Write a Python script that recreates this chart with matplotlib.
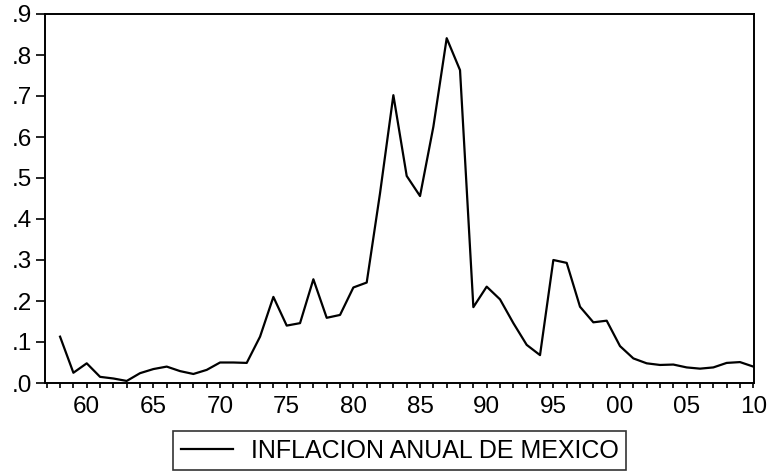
import matplotlib.pyplot as plt
from matplotlib.ticker import FixedLocator, MultipleLocator

# annual inflation of Mexico (log diff of CPI), 1958-2010
years = list(range(1958, 2011))
inflacion = [
    0.113, 0.025, 0.048, 0.015, 0.011, 0.005, 0.024, 0.034, 0.040, 0.029,
    0.022, 0.032, 0.050, 0.050, 0.049, 0.113, 0.210, 0.140, 0.146, 0.253,
    0.159, 0.166, 0.233, 0.245, 0.463, 0.702, 0.505, 0.456, 0.625, 0.841,
    0.763, 0.185, 0.235, 0.204, 0.146, 0.093, 0.068, 0.300, 0.293, 0.186,
    0.148, 0.152, 0.090, 0.060, 0.048, 0.044, 0.045, 0.038, 0.035, 0.038,
    0.049, 0.051, 0.040,
]
xtick_years = [1960, 1965, 1970, 1975, 1980, 1985, 1990, 1995, 2000, 2005, 2010]
xtick_labels = ["60", "65", "70", "75", "80", "85", "90", "95", "00", "05", "10"]
ytick_vals = [0.0, 0.1, 0.2, 0.3, 0.4, 0.5, 0.6, 0.7, 0.8, 0.9]
ytick_labels = [".0", ".1", ".2", ".3", ".4", ".5", ".6", ".7", ".8", ".9"]

plt.rcParams['font.family'] = ['Liberation Sans', 'DejaVu Sans']

fig = plt.figure(figsize=(7.7, 4.72), dpi=100)
ax = fig.add_axes([45 / 770, 1 - 383 / 472, (754 - 45) / 770, (383 - 14) / 472])

ax.plot(years, inflacion, color='black', linewidth=1.6,
        label='INFLACION ANUAL DE MEXICO')

ax.set_xlim(1956.87, 2010.05)
ax.set_ylim(0, 0.9)

ax.xaxis.set_major_locator(FixedLocator(xtick_years))
ax.set_xticklabels(xtick_labels)
ax.xaxis.set_minor_locator(MultipleLocator(1))
ax.set_yticks(ytick_vals)
ax.set_yticklabels(ytick_labels)

ax.tick_params(axis='both', which='both', direction='out', width=1.2,
               labelsize=17.5, colors='black')
ax.tick_params(axis='x', which='both', length=3.5, pad=6)
ax.tick_params(axis='y', which='major', length=6.5, pad=3)

for s in ax.spines.values():
    s.set_linewidth(1.4)
    s.set_color('black')

leg = fig.legend(loc='lower center', bbox_to_anchor=(399.5 / 770, 2 / 472),
                 borderaxespad=0, fontsize=18, frameon=True, fancybox=False,
                 handlelength=2.1, borderpad=0.3, handletextpad=0.7)
leg.get_frame().set_edgecolor('black')
leg.get_frame().set_linewidth(1.2)

fig.savefig('out.png', dpi=100)
